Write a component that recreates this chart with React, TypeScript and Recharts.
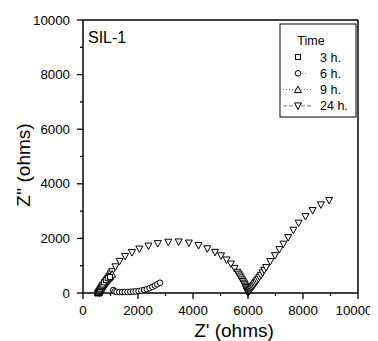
import React from 'react';
import { ScatterChart, Scatter, XAxis, YAxis, ReferenceLine } from 'recharts';

const xTicks = [0, 1000, 2000, 3000, 4000, 5000, 6000, 7000, 8000, 9000, 10000];
const yTicks = [0, 1000, 2000, 3000, 4000, 5000, 6000, 7000, 8000, 9000, 10000];
const legendLabels = ['3 h.', '6 h.', '9 h.', '24 h.'];

const h3: [number, number][] = [
  [520, 0], [540, 30], [560, 60], [580, 90], [600, 125], [620, 160], [650, 220], [680, 265], [710, 310], [760, 390],
  [830, 470], [900, 540], [980, 590],
];
const h6: [number, number][] = [
  [1100, 110], [1150, 60], [1220, 40], [1320, 35], [1420, 35], [1520, 38], [1620, 40], [1720, 45], [1820, 50],
  [1920, 58], [2020, 70], [2120, 88], [2220, 110], [2320, 140], [2420, 180], [2520, 225], [2610, 270], [2700, 320], [2800, 375],
];
const h9: [number, number][] = [
  [560, 0], [575, 25], [590, 50], [605, 80], [620, 110], [640, 145], [660, 180], [680, 215], [700, 250], [725, 290],
  [750, 330], [775, 365], [800, 400], [830, 435], [860, 470], [890, 505], [920, 540], [955, 575], [990, 610], [1060, 690],
];
const h24: [number, number][] = [
  [600, 0], [620, 30], [640, 60], [660, 95], [680, 130], [700, 165], [720, 200], [745, 245], [770, 290], [795, 335],
  [820, 380], [850, 430], [880, 480], [920, 550], [960, 620], [1010, 700], [1060, 780], [1180, 960],
  [1330, 1160], [1530, 1340], [1780, 1480], [2050, 1610], [2380, 1720], [2720, 1810], [3100, 1860], [3480, 1870],
  [3850, 1830], [4200, 1740], [4520, 1620], [4800, 1490], [5020, 1360], [5220, 1210], [5380, 1060], [5510, 900],
  [5610, 760], [5660, 690], [5700, 620], [5740, 550], [5780, 480], [5815, 420], [5850, 360], [5875, 300], [5900, 250],
  [5920, 200], [5940, 150], [5955, 110], [5970, 80], [5980, 50], [5990, 30], [6000, 8],
  [6010, 20], [6030, 45], [6050, 70], [6070, 100], [6095, 135], [6120, 170], [6150, 210], [6180, 250], [6215, 295],
  [6250, 340], [6290, 395], [6330, 450], [6375, 515], [6420, 580], [6470, 650], [6530, 740], [6590, 830], [6660, 930],
  [6810, 1150], [6980, 1370], [7140, 1590], [7290, 1790], [7460, 2030], [7650, 2300], [7840, 2560], [8090, 2800],
  [8350, 3020], [8650, 3230], [8950, 3390],
];

const toPts = (a: [number, number][]) => a.map(([x, y]) => ({ x, y }));

const FONT = '"Liberation Sans", Arial, sans-serif';

const Square = (p: any) => (
  <rect x={p.cx - 2.5} y={p.cy - 2.5} width={5} height={5} fill="#fff" stroke="#000" strokeWidth={1} />
);
const Circ = (p: any) => <circle cx={p.cx} cy={p.cy} r={2.8} fill="#fff" stroke="#000" strokeWidth={1} />;
const TriUp = (p: any) => (
  <path d={`M${p.cx - 3.5},${p.cy + 3} L${p.cx + 3.5},${p.cy + 3} L${p.cx},${p.cy - 3.5} Z`} fill="#fff" stroke="#000" strokeWidth={1} />
);
const TriDown = (p: any) => (
  <path d={`M${p.cx - 3.5},${p.cy - 3} L${p.cx + 3.5},${p.cy - 3} L${p.cx},${p.cy + 3.5} Z`} fill="#fff" stroke="#000" strokeWidth={1} />
);

const YTick = (p: any) => {
  const v = p.payload.value;
  const major = v % 2000 === 0;
  const ax = p.x + 13;
  return (
    <g>
      <line x1={ax - (major ? 6 : 3)} x2={ax} y1={p.y} y2={p.y} stroke="#000" strokeWidth={1.3} />
      {major && (
        <text x={p.x} y={p.y} dy={4.5} textAnchor="end" fontSize={13.3} fontFamily={FONT} fill="#000">{v}</text>
      )}
    </g>
  );
};
const XTick = (p: any) => {
  const v = p.payload.value;
  const major = v % 2000 === 0;
  const ay = p.y - 13;
  return (
    <g>
      <line x1={p.x} x2={p.x} y1={ay} y2={ay + (major ? 6 : 3)} stroke="#000" strokeWidth={1.3} />
      {major && (
        <text x={p.x} y={p.y} dx={v === 10000 ? -4 : 0} dy={9} textAnchor="middle" fontSize={13.3} fontFamily={FONT} fill="#000">{v}</text>
      )}
    </g>
  );
};

export default function App() {
  return (
    <div style={{ position: 'relative', width: 370, height: 333 }}>
      <ScatterChart width={370} height={333} margin={{ top: 12, right: 20, left: 15, bottom: 8 }} style={{ overflow: 'visible' }}>
        <XAxis
          type="number" dataKey="x" domain={[0, 10000]} ticks={xTicks} interval={0}
          tickSize={6} tickMargin={7} tickLine={false} tick={<XTick />}
          axisLine={{ stroke: '#000', strokeWidth: 1.5 }} height={40}
          label={{
            content: () => (
              <text x={226} y={329} textAnchor="middle" fontSize={19} fontFamily={FONT} fill="#000">Z' (ohms)</text>
            ),
          }}
        />
        <YAxis
          type="number" dataKey="y" domain={[0, 10000]} ticks={yTicks} interval={0}
          tickSize={6} tickMargin={7} tickLine={false} tick={<YTick />}
          axisLine={{ stroke: '#000', strokeWidth: 1.5 }} width={60}
          label={{
            content: () => (
              <text x={22} y={157} transform="rotate(-90 22 157)" textAnchor="middle" fontSize={19} fontFamily={FONT} fill="#000">Z'' (ohms)</text>
            ),
          }}
        />
        <ReferenceLine y={10000} stroke="#000" strokeWidth={1.5} />
        <ReferenceLine x={10000} stroke="#000" strokeWidth={1.5} />
        <Scatter name="24 h." data={toPts(h24)} shape={<TriDown />} isAnimationActive={false} />
        <Scatter name="9 h." data={toPts(h9)} shape={<TriUp />} isAnimationActive={false} />
        <Scatter name="6 h." data={toPts(h6)} shape={<Circ />} isAnimationActive={false} />
        <Scatter name="3 h." data={toPts(h3)} shape={<Square />} isAnimationActive={false} />
      </ScatterChart>
      <svg width={370} height={333} style={{ position: 'absolute', left: 0, top: 0, pointerEvents: 'none' }}>
        <text x={80} y={35} fontSize={16} fontFamily={FONT} fill="#000">SIL-1</text>
        <rect x={272} y={16} width={76} height={93} fill="#fff" stroke="#000" strokeWidth={1} />
        <text x={303} y={36.5} textAnchor="middle" fontSize={12.5} fontFamily={FONT} fill="#000">Time</text>
        {legendLabels.map((l, i) => {
          const cy = 49 + i * 16.3;
          const cx = 290;
          return (
            <g key={l}>
              {i === 1 && <line x1={294} x2={298} y1={cy} y2={cy} stroke="#666" strokeWidth={0.8} strokeDasharray="1 2" />}
              {i === 2 && <line x1={275} x2={305} y1={cy} y2={cy} stroke="#555" strokeWidth={0.8} strokeDasharray="1 2" />}
              {i === 3 && <line x1={275} x2={305} y1={cy} y2={cy} stroke="#555" strokeWidth={0.8} strokeDasharray="4 2" />}
              {i === 0 && <Square cx={cx} cy={cy} />}
              {i === 1 && <Circ cx={cx} cy={cy} />}
              {i === 2 && <TriUp cx={cx} cy={cy} />}
              {i === 3 && <TriDown cx={cx} cy={cy} />}
              <text x={312} y={cy + 4.5} fontSize={12.5} fontFamily={FONT} fill="#000">{l}</text>
            </g>
          );
        })}
      </svg>
    </div>
  );
}
